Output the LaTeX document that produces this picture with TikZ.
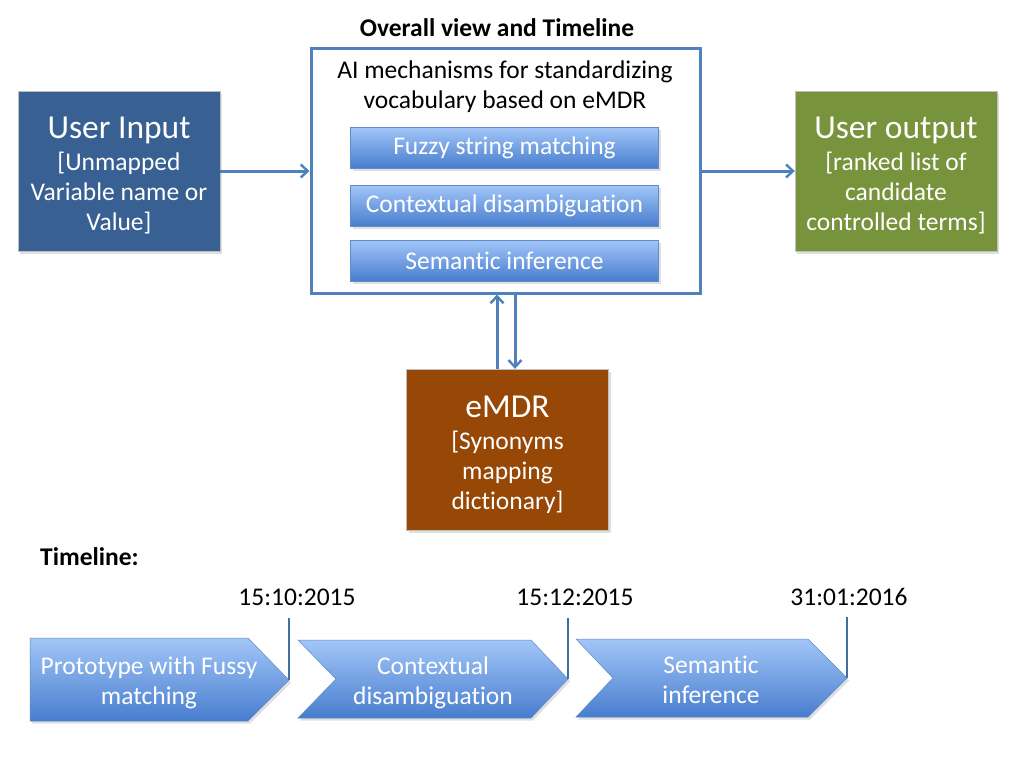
\documentclass[tikz,border=0pt]{standalone}
\usepackage{fontspec}
\setmainfont{Carlito}[Ligatures=NoCommon]
\usetikzlibrary{arrows.meta,shadows,calc}
\definecolor{userblue}{RGB}{56,96,146}
\definecolor{outgreen}{RGB}{119,147,60}
\definecolor{emdrbrown}{RGB}{152,72,6}
\definecolor{lineblue}{RGB}{79,129,189}
\definecolor{gradtop}{RGB}{162,198,248}
\definecolor{gradbot}{RGB}{72,125,206}
\definecolor{gradedge}{RGB}{95,140,205}
\newcommand{\bigtxt}{\fontsize{33.5}{38}\selectfont}
\newcommand{\midtxt}{\fontsize{25.5}{30}\selectfont}
\tikzset{
  shad/.style={drop shadow={opacity=0.25,shadow xshift=2pt,shadow yshift=-2.5pt}},
  colbox/.style={rectangle,minimum width=202pt,minimum height=160pt,inner sep=0pt,
    draw=black!25,line width=0.4pt,shad},
  boxtxt/.style={inner sep=0pt,text=white,align=center,font=\midtxt},
  gradbox/.style={rectangle,minimum width=308pt,minimum height=41pt,inner sep=0pt,
    top color=gradtop,bottom color=gradbot,draw=gradedge,line width=0.5pt,
    text=white,font=\midtxt,shad},
  chev/.style={top color=gradtop,bottom color=gradbot,draw=gradedge,line width=0.5pt,shad},
  arr/.style={draw=lineblue,line width=3pt,-{Straight Barb[length=7pt,width=13pt,line width=2.4pt]}},
  tick/.style={draw=lineblue!85!black,line width=2.6pt},
  plain/.style={text=black,inner sep=0pt,align=center},
  datetxt/.style={plain,anchor=base,font=\fontsize{25.5}{30}\selectfont}
}
\begin{document}
\begin{tikzpicture}[x=1pt,y=-1pt]
\useasboundingbox[fill=white] (0,0) rectangle (1024,768);

% title
\node[plain,font=\fontsize{25.5}{30}\selectfont\bfseries] (title) at (497,27.5) {Overall view and Timeline};

% central box
\node[rectangle,draw=lineblue,line width=3pt,minimum width=389pt,minimum height=244pt,inner sep=0pt] (mid) at (505.5,171) {};
\node[plain,font=\midtxt] (aititle) at (505,87) {AI mechanisms for standardizing\\vocabulary based on eMDR};
\node[gradbox] (fuzzy) at (504.5,147.5) {Fuzzy string matching};
\node[gradbox] (context) at (504.5,205.5) {Contextual disambiguation};
\node[gradbox] (seman) at (504.5,260.5) {Semantic inference};

% side boxes
\node[colbox,fill=userblue] (input) at (119,171) {};
\node[boxtxt] (inputtxt) at ([yshift=-4pt]input.center) {{\bigtxt User Input}\\[2pt][Unmapped\\Variable name or\\Value]};
\node[colbox,fill=outgreen] (output) at (896,171) {};
\node[boxtxt] (outputtxt) at ([yshift=-4pt]output.center) {{\bigtxt User output}\\[2pt][ranked list of\\candidate\\controlled terms]};
\node[colbox,fill=emdrbrown,minimum height=161pt] (emdr) at (507.5,449.5) {};
\node[boxtxt] (emdrtxt) at ([yshift=-5.5pt]emdr.center) {{\bigtxt eMDR}\\[2pt][Synonyms\\mapping\\dictionary]};

% connectors
\draw[arr] (input.east) -- (mid.west |- input.east);
\draw[arr] (mid.east |- output.west) -- (output.west);
\coordinate (upx) at (497,0);
\coordinate (downx) at (515,0);
\draw[arr] (emdr.north -| upx) -- (mid.south -| upx);
\draw[arr] (mid.south -| downx) -- (emdr.north -| downx);

% timeline
\node[plain,anchor=west,font=\fontsize{25.5}{30}\selectfont\bfseries] (tl) at (40,557) {Timeline:};
\node[datetxt] (d1) at (297,605.5) {15:10:2015};
\node[datetxt] (d2) at (575,605.5) {15:12:2015};
\node[datetxt] (d3) at (849,605.5) {31:01:2016};

\path[chev] (30,638) -- (248,638) -- (289,680) -- (248,721) -- (30,721) -- cycle;
\path[chev] (298,640) -- (531,640) -- (568,679) -- (531,718) -- (298,718) -- (336,679) -- cycle;
\path[chev] (576,639) -- (808,639) -- (847,678) -- (808,717) -- (576,717) -- (613,678) -- cycle;

\coordinate (t1) at (289,680);
\coordinate (t2) at (568,679);
\coordinate (t3) at (847,678);
\draw[tick] (t1 |- 0,618) -- (t1);
\draw[tick] (t2 |- 0,618) -- (t2);
\draw[tick] (t3 |- 0,617) -- (t3);

\node[plain,text=white,font=\midtxt] (p1) at (149,682.5) {Prototype with Fussy\\matching};
\node[plain,text=white,font=\midtxt] (p2) at (433,682.5) {Contextual\\disambiguation};
\node[plain,text=white,font=\midtxt] (p3) at (711,680) {Semantic\\inference};
\end{tikzpicture}
\end{document}
